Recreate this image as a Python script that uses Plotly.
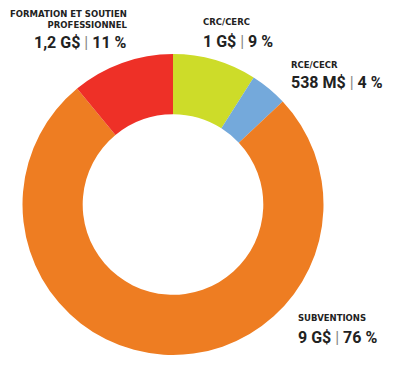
import plotly.graph_objects as go

labels = ["CRC/CERC", "RCE/CECR", "SUBVENTIONS", "FORMATION ET SOUTIEN<br>PROFESSIONNEL"]
percents = [9, 4, 76, 11]
amounts = ["1 G$", "538 M$", "9 G$", "1,2 G$"]
colors = ["#CDDC29", "#74A9DB", "#EE7D22", "#EE3027"]

# page body has an 8px default margin: figure is drawn at an offset of 8px
OFF = 8
W, H = 392, 357

def px(x):
    return (x - OFF) / W

def py(y):
    return 1 - (y - OFF) / H

fig = go.Figure(go.Pie(
    labels=labels,
    values=percents,
    hole=0.6,
    sort=False,
    direction="clockwise",
    rotation=0,
    marker=dict(colors=colors, line=dict(width=0)),
    textinfo="none",
    hoverinfo="label+percent",
    domain=dict(x=[px(22), px(324)], y=[py(355), py(54)]),
    showlegend=False,
))

LFONT = "DejaVu Sans"
VFONT = "Roboto"
SEP = "<span style='color:#888888'> | </span>"

# label positions (px): (x, y_label, y_value, anchor, label yanchor)
pos = [
    (202, 22, 41, "left", "middle"),
    (290, 65, 82, "left", "middle"),
    (297, 318, 337, "left", "middle"),
    (128, 8, 43, "right", "top"),
]

anns = []
for lab, pct, amt, (x, yl, yv, anc, ya) in zip(labels, percents, amounts, pos):
    anns.append(dict(
        text="<b>%s</b>" % lab, x=px(x), y=py(yl), xref="paper", yref="paper",
        xanchor=anc, yanchor=ya, showarrow=False, align=anc, borderpad=0,
        font=dict(family=LFONT, size=8.5, color="#222222"),
    ))
    anns.append(dict(
        text="<b>%s</b>%s<b>%d %%</b>" % (amt, SEP, pct), x=px(x), y=py(yv),
        xref="paper", yref="paper", xanchor=anc, yanchor="middle",
        showarrow=False, align=anc, borderpad=0,
        font=dict(family=VFONT, size=16, color="#222222"),
    ))

fig.update_layout(
    width=W, height=H,
    margin=dict(l=0, r=0, t=0, b=0),
    paper_bgcolor="white",
    plot_bgcolor="white",
    annotations=anns,
)

fig.write_html("out.html")
